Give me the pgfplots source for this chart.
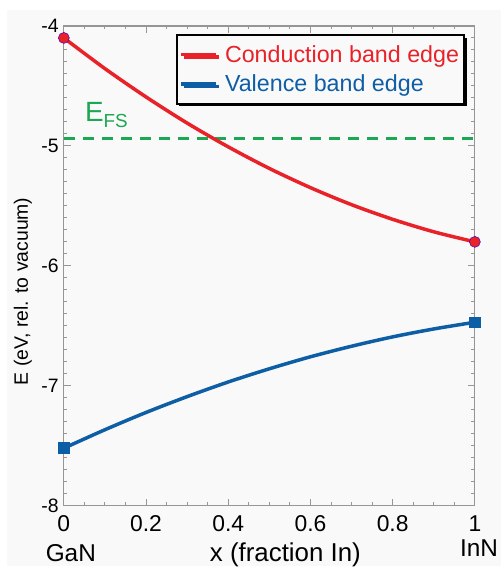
\documentclass[border=0pt]{standalone}
\usepackage{pgfplots}
\pgfplotsset{compat=1.18}
\usepackage{fontspec}
\setmainfont{Liberation Sans}
\usetikzlibrary{shadows,backgrounds}
\definecolor{cred}{RGB}{232,34,40}
\definecolor{cblue}{RGB}{14,94,166}
\definecolor{cgreen}{RGB}{28,168,82}
\definecolor{bgc}{RGB}{249,249,249}
\definecolor{axc}{RGB}{150,150,150}
\begin{document}
\begin{tikzpicture}
\begin{axis}[
  scale only axis, width=412bp, height=481bp,
  xmin=0, xmax=1, ymin=-8, ymax=-4,
  clip=false,
  axis line style={axc, line width=1.2bp},
  every tick/.style={axc, line width=1bp},
  tick align=inside,
  major tick length=7bp, minor tick length=3.5bp,
  xtick={0,0.2,0.4,0.6,0.8,1},
  xticklabels={0,0.2,0.4,0.6,0.8,1},
  minor xtick={0.05,0.1,0.15,0.25,0.3,0.35,0.45,0.5,0.55,0.65,0.7,0.75,0.85,0.9,0.95},
  ytick={-8,-7,-6,-5,-4},
  yticklabels={-8,-7,-6,-5,-4},
  minor ytick={-7.9,-7.8,-7.7,-7.6,-7.5,-7.4,-7.3,-7.2,-7.1,-6.9,-6.8,-6.7,-6.6,-6.5,-6.4,-6.3,-6.2,-6.1,-5.9,-5.8,-5.7,-5.6,-5.5,-5.4,-5.3,-5.2,-5.1,-4.9,-4.8,-4.7,-4.6,-4.5,-4.4,-4.3,-4.2,-4.1},
  xticklabel style={font=\fontsize{23}{23}\selectfont, inner sep=0pt, anchor=north, yshift=-10bp},
  yticklabel style={font=\fontsize{19.5}{19.5}\selectfont, inner sep=0pt, anchor=east, xshift=-5bp},
  xlabel={x (fraction In)},
  xlabel style={font=\fontsize{26}{26}\selectfont, at={(rel axis cs:0.539,0)}, anchor=base, yshift=-56bp, inner sep=0pt},
  ylabel={E (eV, rel. to vacuum)},
  ylabel style={font=\fontsize{19.5}{19.5}\selectfont, at={(rel axis cs:0,0.447)}, anchor=center, yshift=41bp, inner sep=0pt},
  legend style={at={(rel axis cs:0.272,0.983)}, anchor=north west, draw=black, line width=2bp, fill=bgc,
    drop shadow={shadow xshift=2.5bp, shadow yshift=-2.5bp, fill=black, opacity=1},
    font=\fontsize{23.4}{23.4}\selectfont, inner xsep=3bp, inner ysep=8.5bp,
    nodes={inner xsep=2bp, inner ysep=2bp}, row sep=7bp, column sep=5bp},
  legend cell align=left,
  legend image code/.code={\draw[#1] (0bp,0bp) -- (35bp,0bp);},
]
\addplot[cgreen, line width=3bp, dash pattern=on 11bp off 8bp, forget plot] coordinates {(0,-4.94) (1,-4.94)};
\addplot[cred, line width=3.5bp, smooth] coordinates {
(0,-4.1) (0.1,-4.356) (0.2,-4.592) (0.3,-4.810) (0.4,-5.008) (0.5,-5.188)
(0.6,-5.348) (0.7,-5.490) (0.8,-5.612) (0.9,-5.716) (1,-5.8)};
\addlegendentry{\textcolor{cred}{Conduction band edge}}
\addplot[cblue, line width=3.5bp, smooth] coordinates {
(0,-7.52) (0.1,-7.366) (0.2,-7.222) (0.3,-7.090) (0.4,-6.968) (0.5,-6.858)
(0.6,-6.758) (0.7,-6.670) (0.8,-6.592) (0.9,-6.526) (1,-6.47)};
\addlegendentry{\textcolor{cblue}{Valence band edge}}
\addplot[only marks, mark=*, mark size=5.5bp, mark options={fill=cred, draw=blue!50!violet, line width=0.5bp}, forget plot] coordinates {(0,-4.1) (1,-5.8)};
\addplot[only marks, mark=square*, mark size=5.5bp, mark options={fill=cblue, draw=cblue, line width=0.5bp}, forget plot] coordinates {(0,-7.52) (1,-6.47)};
\node[anchor=base west, inner sep=0pt, text=cgreen] at (axis cs:0.051,-4.798) {\fontsize{28}{28}\selectfont E\raisebox{-6bp}{\fontsize{19}{19}\selectfont FS}};
\node[anchor=base, inner sep=0pt, font=\fontsize{24.5}{24.5}\selectfont] at ([yshift=-56bp]rel axis cs:0.017,0) {GaN};
\node[anchor=base, inner sep=0pt, font=\fontsize{24.5}{24.5}\selectfont] at ([yshift=-51bp]rel axis cs:1.01,0) {InN};
\end{axis}
\path[use as bounding box] ([xshift=-64bp,yshift=-60bp]current axis.south west) rectangle ([xshift=26bp,yshift=26bp]current axis.north east);
\begin{scope}[on background layer]
\fill[bgc] ([xshift=-57bp,yshift=-60bp]current axis.south west) rectangle ([xshift=26bp,yshift=16bp]current axis.north east);
\end{scope}
\end{tikzpicture}
\end{document}
